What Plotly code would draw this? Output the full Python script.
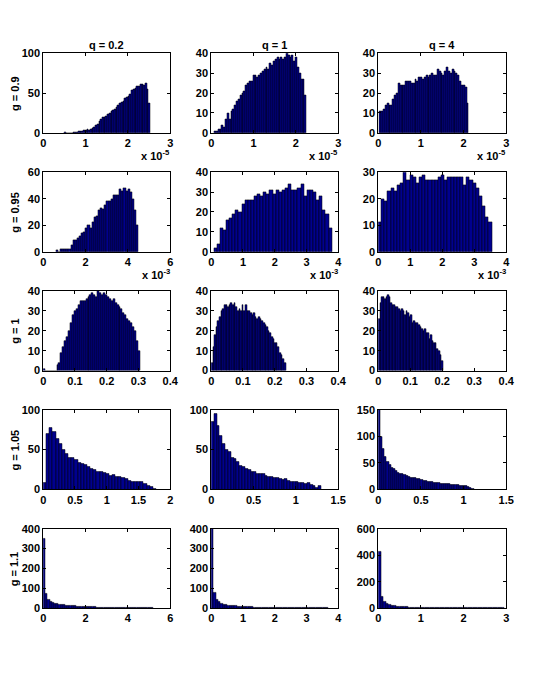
import plotly.graph_objects as go
from plotly.subplots import make_subplots

# column / row labels
q_labels = ["q = 0.2", "q = 1", "q = 4"]
g_labels = ["g = 0.9", "g = 0.95", "g = 1", "g = 1.05", "g = 1.1"]

# histogram counts, one list per panel, with the bin range (start, end) in axis units
# row g = 0.9  (x in units of 1e-5)
g090_q02 = [1, 0, 0, 0, 0, 1, 1, 1, 2, 2, 2, 3, 3, 4, 3, 5, 6, 7, 10, 11, 14, 17, 19, 20, 21,
            23, 25, 27, 28, 30, 32, 35, 37, 38, 40, 43, 45, 46, 48, 53, 55, 56, 58, 59, 61,
            61, 60, 62, 55, 37]
g090_q1 = [1, 1, 2, 2, 4, 3, 7, 10, 7, 11, 12, 14, 16, 17, 19, 20, 21, 24, 25, 26, 26, 29, 29,
           28, 29, 30, 31, 32, 33, 32, 35, 34, 36, 37, 38, 37, 38, 37, 38, 40, 39, 38, 39, 36,
           38, 33, 30, 27, 27, 19]
g090_q4 = [11, 11, 12, 14, 15, 14, 14, 17, 19, 20, 25, 24, 24, 24, 26, 26, 26, 25, 25, 27, 26,
           28, 28, 27, 28, 29, 28, 29, 30, 29, 29, 32, 31, 30, 29, 31, 33, 31, 30, 32, 31, 30,
           29, 26, 24, 24, 23, 15]
# row g = 0.95  (x in units of 1e-3)
g095_q02 = [1, 0, 2, 2, 2, 2, 2, 5, 9, 9, 10, 12, 14, 15, 18, 20, 18, 22, 26, 27, 31, 33, 32,
            35, 38, 38, 40, 43, 43, 43, 47, 46, 48, 46, 47, 45, 40, 31, 20]
g095_q1 = [2, 4, 12, 11, 16, 17, 19, 21, 20, 24, 26, 26, 26, 28, 29, 28, 30, 29, 31, 29, 31,
           30, 31, 32, 34, 31, 31, 32, 34, 28, 31, 31, 30, 26, 28, 21, 19, 12]
g095_q4 = [11, 20, 19, 23, 24, 23, 25, 26, 30, 27, 29, 28, 26, 28, 29, 27, 27, 27, 27, 28, 29,
           27, 28, 28, 28, 28, 28, 25, 28, 27, 26, 24, 21, 17, 13, 11]
# row g = 1
g100_q02 = [1, 0, 0, 0, 0, 0, 0, 3, 4, 9, 12, 15, 17, 20, 24, 28, 30, 31, 33, 35, 35, 35, 36,
            37, 38, 39, 38, 37, 40, 39, 38, 39, 38, 37, 36, 35, 36, 34, 33, 32, 31, 29, 28, 26,
            25, 24, 22, 20, 15, 10]
g100_q1 = [4, 12, 18, 22, 25, 27, 30, 31, 33, 33, 32, 33, 34, 33, 34, 32, 30, 31, 30, 33, 30,
           33, 30, 30, 29, 28, 29, 27, 26, 27, 26, 25, 24, 23, 22, 20, 19, 17, 16, 14, 14, 12,
           9, 8, 6, 4]
g100_q4 = [26, 34, 37, 37, 36, 37, 38, 37, 34, 33, 33, 32, 32, 31, 30, 31, 30, 28, 30, 29, 27,
           28, 24, 25, 24, 24, 23, 22, 21, 20, 21, 19, 19, 16, 18, 15, 14, 14, 11, 10, 8, 5]
# row g = 1.05
g105_q02 = [8, 70, 77, 72, 63, 57, 50, 45, 40, 40, 37, 34, 32, 31, 28, 26, 24, 22, 22, 21, 20,
            17, 18, 16, 16, 14, 13, 11, 10, 9, 10, 9, 7, 5, 3, 1]
g105_q1 = [85, 95, 80, 67, 57, 50, 47, 40, 38, 35, 30, 28, 26, 24, 22, 22, 20, 20, 20, 17, 16,
           16, 15, 14, 13, 12, 13, 11, 10, 9, 10, 8, 8, 7, 8, 6, 4, 2, 5]
g105_q4 = [150, 100, 77, 62, 52, 46, 41, 38, 35, 32, 30, 29, 27, 25, 24, 22, 22, 21, 20, 19,
           18, 17, 16, 15, 15, 14, 13, 12, 12, 11, 11, 10, 10, 10, 9, 9, 8, 8, 7, 7, 6, 6, 4,
           3, 2]
# row g = 1.1
g110_q02 = [350, 75, 45, 35, 28, 25, 22, 20, 18, 17, 15, 14, 13, 12, 11, 10, 10, 9, 8, 8, 7,
            7, 6, 6, 5, 5, 5, 4, 4, 4, 3, 3, 3, 3, 2, 2, 2, 2, 2, 2, 1, 1, 1, 1, 1, 1, 1, 1, 1, 1]
g110_q1 = [400, 80, 45, 32, 25, 20, 18, 15, 13, 12, 11, 10, 9, 8, 7, 7, 6, 6, 5, 5, 5, 4, 4,
           4, 3, 3, 3, 3, 2, 2, 2, 2, 2, 1, 1, 1, 1, 1, 1, 1, 1, 1, 1, 1, 1, 1, 1, 1, 1, 1]
g110_q4 = [430, 90, 50, 35, 28, 22, 18, 15, 13, 11, 10, 9, 8, 7, 6, 6, 5, 5, 4, 4, 4, 3, 3, 3,
           3, 2, 2, 2, 2, 2, 2, 1, 1, 1, 1, 1, 1, 1, 1, 1, 1, 1, 1, 1, 1, 1, 1, 1, 1, 1]

counts = [
    [g090_q02, g090_q1, g090_q4],
    [g095_q02, g095_q1, g095_q4],
    [g100_q02, g100_q1, g100_q4],
    [g105_q02, g105_q1, g105_q4],
    [g110_q02, g110_q1, g110_q4],
]
bin_ranges = [
    [(0.5, 2.53), (0.07, 2.25), (0.03, 2.12)],
    [(0.6, 4.5), (0.08, 3.8), (0.0, 3.55)],
    [(0.0, 0.305), (0.0, 0.235), (0.0, 0.202)],
    [(0.0, 1.78), (0.0, 1.3), (0.0, 1.12)],
    [(0.0, 5.2), (0.0, 3.7), (0.0, 2.95)],
]

# axis ranges / tick steps
x_ranges = [[3, 3, 3], [6, 4, 4], [0.4, 0.4, 0.4], [2, 1.5, 1.5], [6, 4, 3]]
x_dticks = [[1, 1, 1], [2, 1, 1], [0.1, 0.1, 0.1], [0.5, 0.5, 0.5], [2, 1, 1]]
y_ranges = [[100, 40, 40], [60, 40, 30], [40, 40, 40], [100, 100, 150], [400, 400, 600]]
y_dticks = [[50, 10, 10], [20, 10, 10], [10, 10, 10], [50, 50, 50], [100, 100, 200]]
exponents = ["-5", "-3", None, None, None]

# the page body adds an 8px margin, so the figure is drawn 16px smaller
# and all pixel positions are measured from (8, 8)
PAD = 8
W, H = 533 - 2 * PAD, 690 - 2 * PAD
col_px = [(41, 171), (213, 343), (384, 515)]
row_px = [(48, 129), (169, 250), (290, 371), (411, 492), (532, 613)]


def px_x(p):
    return (p - PAD) / W


def px_y(p):
    return 1 - (p - PAD) / H


FONT = "Liberation Sans"
BAR_COLOR = "#00008f"
bold = dict(family=FONT, size=11, color="black", weight="bold")

fig = make_subplots(rows=5, cols=3)

annotations = []
for r in range(5):
    for c in range(3):
        start, end = bin_ranges[r][c]
        vals = counts[r][c]
        width = (end - start) / len(vals)
        fig.add_trace(
            go.Bar(
                y=vals,
                x0=start + width / 2,
                dx=width,
                width=width,
                marker=dict(color=BAR_COLOR, line=dict(color="black", width=0.5)),
                showlegend=False,
            ),
            row=r + 1, col=c + 1,
        )
        x0p, x1p = col_px[c]
        y0p, y1p = row_px[r]
        axis_style = dict(
            showline=True, linecolor="black", linewidth=1, mirror="ticks",
            ticks="inside", ticklen=3, tickcolor="black", showgrid=False,
            zeroline=False, tickfont=bold,
        )
        fig.update_xaxes(
            domain=[px_x(x0p), px_x(x1p)], range=[0, x_ranges[r][c]], dtick=x_dticks[r][c],
            tick0=0, **axis_style, row=r + 1, col=c + 1,
        )
        fig.update_yaxes(
            domain=[px_y(y1p), px_y(y0p)], range=[0, y_ranges[r][c]], dtick=y_dticks[r][c],
            tick0=0, **axis_style, row=r + 1, col=c + 1,
        )
        if exponents[r]:
            annotations.append(dict(
                x=px_x(x1p + 2), y=px_y(y1p + 23), xref="paper", yref="paper",
                xanchor="right", yanchor="middle", showarrow=False,
                text="x 10<sup>" + exponents[r] + "</sup>", font=bold,
            ))

for c in range(3):
    x0p, x1p = col_px[c]
    annotations.append(dict(
        x=px_x((x0p + x1p) / 2), y=px_y(40), xref="paper", yref="paper",
        xanchor="center", yanchor="middle", showarrow=False, text=q_labels[c], font=bold,
    ))
for r in range(5):
    y0p, y1p = row_px[r]
    annotations.append(dict(
        x=px_x(12), y=px_y((y0p + y1p) / 2), xref="paper", yref="paper",
        xanchor="center", yanchor="middle", showarrow=False, text=g_labels[r],
        textangle=-90, font=bold,
    ))

fig.update_layout(
    width=W, height=H,
    margin=dict(l=0, r=0, t=0, b=0),
    paper_bgcolor="white", plot_bgcolor="white",
    bargap=0, annotations=annotations,
    font=dict(family=FONT, color="black"),
)

fig.write_html("out.html")
